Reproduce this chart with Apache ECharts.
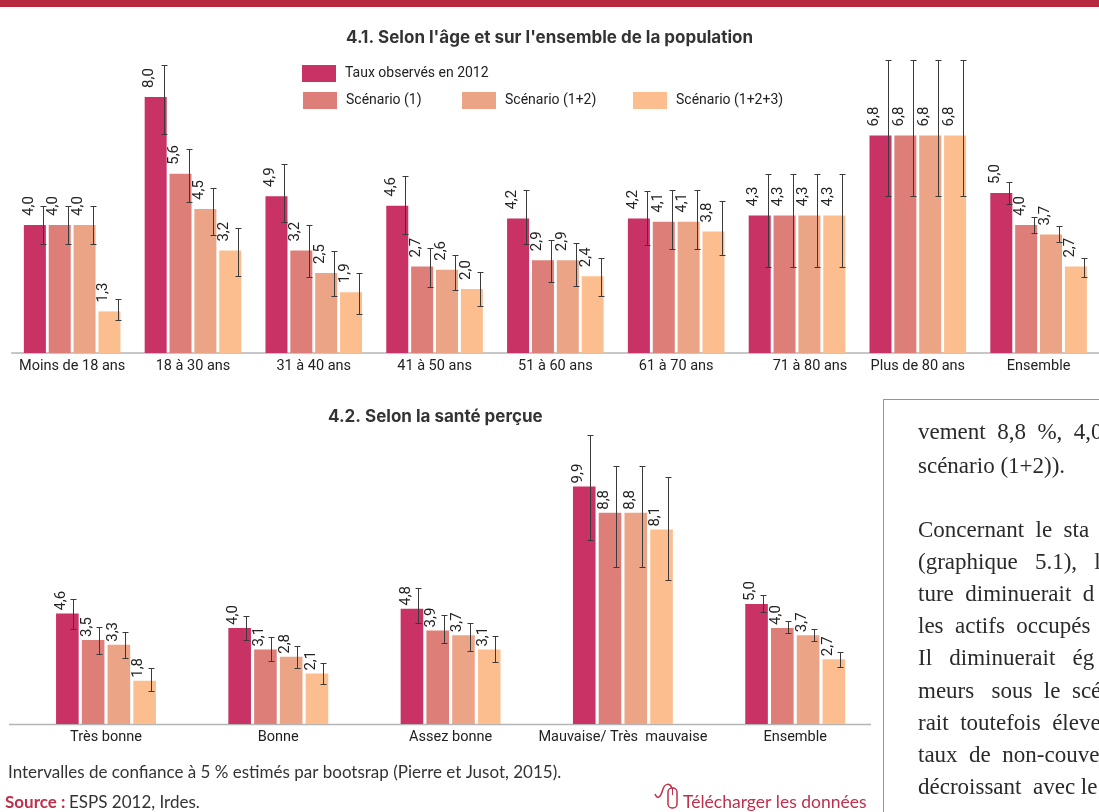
<!DOCTYPE html>
<html>
<head>
<meta charset="utf-8">
<script src="https://cdn.jsdelivr.net/npm/echarts@6/dist/echarts.min.js"></script>
<style>
  html, body { margin: 0; padding: 0; background: #fff; }
  #chart { width: 1099px; height: 812px; }
</style>
</head>
<body>
<div id="chart"></div>
<script>
const seriesNames = ['Taux observés en 2012', 'Scénario (1)', 'Scénario (1+2)', 'Scénario (1+2+3)']
const seriesColors = ['#c83264', '#dd7f78', '#eba486', '#fcbe8e']

// 4.1 selon l'age
const ageCategories = ['Moins de 18 ans', '18 à 30 ans', '31 à 40 ans', '41 à 50 ans', '51 à 60 ans', '61 à 70 ans', '71 à 80 ans', 'Plus de 80 ans', 'Ensemble']
const ageObserved = [4.0, 8.0, 4.9, 4.6, 4.2, 4.2, 4.3, 6.8, 5.0]
const ageScen1 = [4.0, 5.6, 3.2, 2.7, 2.9, 4.1, 4.3, 6.8, 4.0]
const ageScen12 = [4.0, 4.5, 2.5, 2.6, 2.9, 4.1, 4.3, 6.8, 3.7]
const ageScen123 = [1.3, 3.2, 1.9, 2.0, 2.4, 3.8, 4.3, 6.8, 2.7]
const ageObservedLow = [3.40, 6.83, 4.10, 3.71, 3.40, 3.36, 2.68, 4.91, 4.65]
const ageObservedHigh = [4.59, 8.99, 5.90, 5.53, 5.09, 5.07, 5.59, 9.16, 5.33]
const ageScen1Low = [3.40, 4.72, 2.36, 2.05, 2.21, 3.25, 2.68, 4.91, 3.76]
const ageScen1High = [4.59, 6.36, 4.01, 3.28, 3.54, 5.08, 5.59, 9.16, 4.26]
const ageScen12Low = [3.40, 3.69, 1.78, 1.98, 2.10, 3.25, 2.68, 4.91, 3.47]
const ageScen12High = [4.59, 5.15, 3.18, 3.05, 3.43, 5.08, 5.59, 9.16, 3.96]
const ageScen123Low = [1.02, 2.40, 1.23, 1.47, 1.79, 3.05, 2.68, 4.91, 2.38]
const ageScen123High = [1.70, 3.90, 2.49, 2.53, 2.97, 4.74, 5.59, 9.16, 2.98]

// 4.2 selon la sante percue
const healthCategories = ['Très bonne', 'Bonne', 'Assez bonne', 'Mauvaise/ Très  mauvaise', 'Ensemble']
const healthObserved = [4.6, 4.0, 4.8, 9.9, 5.0]
const healthScen1 = [3.5, 3.1, 3.9, 8.8, 4.0]
const healthScen12 = [3.3, 2.8, 3.7, 8.8, 3.7]
const healthScen123 = [1.8, 2.1, 3.1, 8.1, 2.7]
const healthObservedLow = [3.97, 3.49, 4.19, 7.67, 4.67]
const healthObservedHigh = [5.21, 4.49, 5.67, 12.06, 5.36]
const healthScen1Low = [2.90, 2.61, 3.36, 6.54, 3.78]
const healthScen1High = [4.03, 3.61, 4.56, 10.76, 4.28]
const healthScen12Low = [2.75, 2.32, 3.06, 6.54, 3.47]
const healthScen12High = [3.82, 3.24, 4.19, 10.76, 3.97]
const healthScen123Low = [1.38, 1.67, 2.57, 6.01, 2.38]
const healthScen123High = [2.33, 2.53, 3.67, 10.31, 2.99]

const boxLines = [
  ['vement  8,8  %,  4,0', 444],
  ['scénario (1+2)).', 478],
  ['Concernant  le  sta', 542],
  ['(graphique   5.1),   l', 574],
  ['ture  diminuerait  d', 606],
  ['les  actifs  occupés', 638],
  ['Il   diminuerait   ég', 670],
  ['meurs   sous  le  scé', 703],
  ['rait  toutefois  éleve', 735],
  ['taux  de  non-couve', 767],
  ['décroissant  avec le', 799],
]

const narrow = 'Roboto, sans-serif'
const titleFont = 'Inter, sans-serif'
const red = '#c0304a'

function decimal(v) {
  return v.toFixed(1).replace('.', ',')
}

function barSeries(name, color, values, axisIdx, labelGap) {
  return {
    type: 'bar',
    name,
    xAxisIndex: axisIdx,
    yAxisIndex: axisIdx,
    data: values,
    itemStyle: { color },
    label: {
      show: true,
      position: 'top',
      rotate: 90,
      align: 'left',
      verticalAlign: 'middle',
      distance: labelGap,
      offset: [0, -6], // offset turns with the label
      color: '#222',
      fontFamily: narrow,
      fontSize: 15,
      formatter: p => decimal(p.value),
    },
  }
}

// error bars sit right of the bar centre, like in the printed figure
function errorSeries(low, high, axisIdx, slot, pitch, shift) {
  return {
    type: 'custom',
    xAxisIndex: axisIdx,
    yAxisIndex: axisIdx,
    z: 5,
    silent: true,
    clip: false,
    data: low.map((v, i) => [i, v, high[i]]),
    encode: { x: 0, y: [1, 2] },
    renderItem(params, api) {
      const lo = api.coord([api.value(0), api.value(1)])
      const hi = api.coord([api.value(0), api.value(2)])
      const x = Math.round(lo[0] + (slot - 1.5) * pitch + shift) + 0.5
      const y1 = Math.round(lo[1]) + 0.5
      const y2 = Math.round(hi[1]) + 0.5
      const style = { stroke: '#3a3a3a', lineWidth: 1, fill: null }
      return {
        type: 'group',
        children: [
          { type: 'line', shape: { x1: x, y1, x2: x, y2 }, style },
          { type: 'line', shape: { x1: x - 3, y1, x2: x + 3, y2: y1 }, style },
          { type: 'line', shape: { x1: x - 3, y1: y2, x2: x + 3, y2 }, style },
        ],
      }
    },
  }
}

const ageValues = [ageObserved, ageScen1, ageScen12, ageScen123]
const ageLow = [ageObservedLow, ageScen1Low, ageScen12Low, ageScen123Low]
const ageHigh = [ageObservedHigh, ageScen1High, ageScen12High, ageScen123High]
const healthValues = [healthObserved, healthScen1, healthScen12, healthScen123]
const healthLow = [healthObservedLow, healthScen1Low, healthScen12Low, healthScen123Low]
const healthHigh = [healthObservedHigh, healthScen1High, healthScen12High, healthScen123High]

const series = []
seriesNames.forEach((name, i) => {
  series.push(Object.assign(barSeries(name, seriesColors[i], ageValues[i], 0, 9), { barWidth: 22, barGap: '13%' }))
  series.push(errorSeries(ageLow[i], ageHigh[i], 0, i, 24.9, 8))
})
seriesNames.forEach((name, i) => {
  series.push(Object.assign(barSeries(name, seriesColors[i], healthValues[i], 1, 3), { barWidth: 22.6, barGap: '14%' }))
  series.push(errorSeries(healthLow[i], healthHigh[i], 1, i, 25.8, 6))
})

const legendPlace = [[302, 65], [303, 92], [462, 92], [633, 92]]

const boxText = boxLines.map(([text, y]) => ({
  type: 'text',
  x: 918,
  y,
  style: { text, fill: '#2a2a2a', font: '23px "Liberation Serif", serif', textVerticalAlign: 'bottom' },
}))

const chart = echarts.init(document.getElementById('chart'))
chart.setOption({
  animation: false,
  backgroundColor: '#fff',
  title: [
    { text: '4.1. Selon l\'âge et sur l\'ensemble de la population', left: 346, top: 29, padding: 0, textStyle: { fontFamily: titleFont, fontWeight: 'bold', fontSize: 17, color: '#333' } },
    { text: '4.2. Selon la santé perçue', left: 328, top: 408, padding: 0, textStyle: { fontFamily: titleFont, fontWeight: 'bold', fontSize: 17, color: '#333' } },
  ],
  legend: seriesNames.map((name, i) => ({
    data: [name],
    left: legendPlace[i][0],
    top: legendPlace[i][1],
    padding: 0,
    icon: 'rect',
    itemWidth: 34,
    itemHeight: 17,
    itemGap: 0,
    selectedMode: false,
    textStyle: { fontFamily: narrow, fontSize: 14, color: '#222', padding: [0, 0, 0, 4] },
  })),
  grid: [
    { left: 11.75, top: 33, width: 1091.7, height: 320 },
    { left: 19.85, top: 412, width: 861.5, height: 312 },
  ],
  xAxis: [
    {
      type: 'category',
      gridIndex: 0,
      data: ageCategories,
      axisTick: { show: false },
      axisLine: { lineStyle: { color: '#b5b5b5', width: 1.5 } },
      axisLabel: {
        interval: 0,
        margin: 6,
        color: '#222',
        fontFamily: narrow,
        fontSize: 14.5,
        // the 71 a 80 label is printed off-centre
        formatter: v => v === '71 à 80 ans' ? `{shift|${v}}` : v,
        rich: { shift: { padding: [0, 0, 0, 26], color: '#222', fontFamily: narrow, fontSize: 14.5 } },
      },
    },
    {
      type: 'category',
      gridIndex: 1,
      data: healthCategories,
      axisTick: { show: false },
      axisLine: { show: false },
      axisLabel: { interval: 0, margin: 6, color: '#222', fontFamily: narrow, fontSize: 14.5 },
    },
  ],
  yAxis: [
    { type: 'value', gridIndex: 0, min: 0, max: 10, show: false },
    { type: 'value', gridIndex: 1, min: 0, max: 13, show: false },
  ],
  series,
  graphic: [
    { type: 'rect', shape: { x: 0, y: 0, width: 1099, height: 7 }, style: { fill: '#b8293f' } },
    { type: 'line', shape: { x1: 9, y1: 724.5, x2: 871, y2: 724.5 }, style: { stroke: '#b5b5b5', lineWidth: 1.5 } },
    { type: 'rect', shape: { x: 883, y: 399, width: 1, height: 413 }, style: { fill: '#dc7488' } },
    { type: 'rect', shape: { x: 883, y: 399, width: 216, height: 1 }, style: { fill: '#dc7488' } },
    { type: 'text', x: 8, y: 781, style: { text: 'Intervalles de confiance à 5 % estimés par bootsrap (Pierre et Jusot, 2015).', fill: '#333', font: '17px Lato, sans-serif', textVerticalAlign: 'bottom' } },
    { type: 'text', x: 5, y: 811, style: { text: 'Source :', fill: red, font: 'bold 17px Lato, sans-serif', textVerticalAlign: 'bottom' } },
    { type: 'text', x: 69, y: 811, style: { text: 'ESPS 2012, Irdes.', fill: '#333', font: '17px Lato, sans-serif', textVerticalAlign: 'bottom' } },
    { type: 'text', x: 683, y: 811, style: { text: 'Télécharger les données', fill: red, font: '17.5px Lato, sans-serif', textVerticalAlign: 'bottom' } },
    { type: 'bezierCurve', shape: { x1: 655, y1: 794, cpx1: 658, cpy1: 801, cpx2: 661, cpy2: 796, x2: 663, y2: 789 }, style: { stroke: red, lineWidth: 1.5, fill: null } },
    { type: 'bezierCurve', shape: { x1: 663, y1: 789, cpx1: 665, cpy1: 783, cpx2: 670, cpy2: 783, x2: 672, y2: 788 }, style: { stroke: red, lineWidth: 1.5, fill: null } },
    { type: 'rect', shape: { x: 668, y: 788, width: 9, height: 20, r: 4 }, style: { stroke: red, lineWidth: 1.5, fill: '#fff' } },
    { type: 'line', shape: { x1: 672.5, y1: 788, x2: 672.5, y2: 795 }, style: { stroke: red, lineWidth: 1 } },
    ...boxText,
  ],
})
</script>
</body>
</html>
